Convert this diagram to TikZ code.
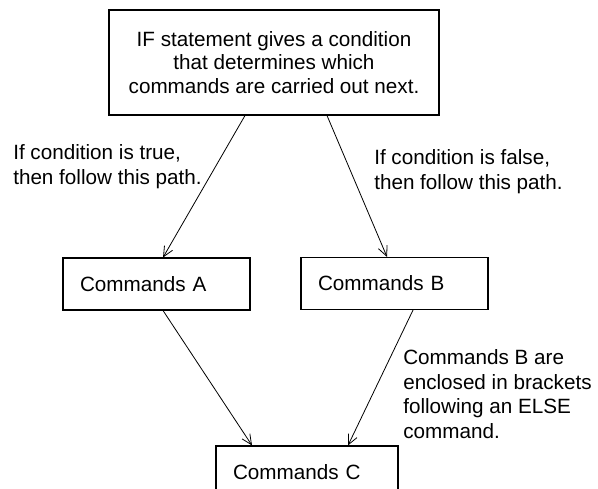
\documentclass[tikz,border=0pt]{standalone}
\usepackage{fontspec}
\setmainfont{Liberation Sans}
\usetikzlibrary{arrows.meta,positioning,calc}

\begin{document}
\begin{tikzpicture}[
    x=0.75pt, y=-0.75pt,
    font=\fontsize{15.5}{17.5}\selectfont,
    cmdbox/.style={draw, line width=0.8pt, align=left, inner ysep=0pt, inner xsep=12.75pt, minimum height=39pt},
    notetext/.style={align=left, anchor=north west, inner sep=0pt, font=\fontsize{15.5}{18.6}\selectfont},
    flow/.style={-{Straight Barb[length=7.5pt,width=7pt]}, line width=0.6pt}
  ]
    \useasboundingbox (0,0) rectangle (598,488);
    \node[draw, line width=0.8pt, align=center, minimum width=247.5pt, minimum height=78.75pt] (ifst) at (274,62.5)
      {IF statement gives a condition\\that determines which\\commands are carried out next.};
    \node[cmdbox, text width=114.75pt] (cmda) at (156.5,284) {Commands A};
    \node[cmdbox, text width=114.75pt] (cmdb) at (394.5,283.5) {Commands B};
    \node[cmdbox, text width=111pt] (cmdc) at (307,472) {Commands C};
    \node[notetext] (truenote) at (13,144) {If condition is true,\\then follow this path.};
    \node[notetext] (falsenote) at (374,149) {If condition is false,\\then follow this path.};
    \node[notetext] (elsenote) at (403,349) {Commands B are\\enclosed in brackets\\following an ELSE\\command.};
    \draw[flow] ([xshift=-21.75pt]ifst.south) -- ([xshift=4.9pt]cmda.north);
    \draw[flow] ([xshift=39.75pt]ifst.south) -- ([xshift=-5.6pt]cmdb.north);
    \draw[flow] ([xshift=4.9pt]cmda.south) -- ([xshift=-41.25pt]cmdc.north);
    \draw[flow] ([xshift=13.9pt]cmdb.south) -- ([xshift=30.75pt]cmdc.north);
  \end{tikzpicture}
\end{document}
